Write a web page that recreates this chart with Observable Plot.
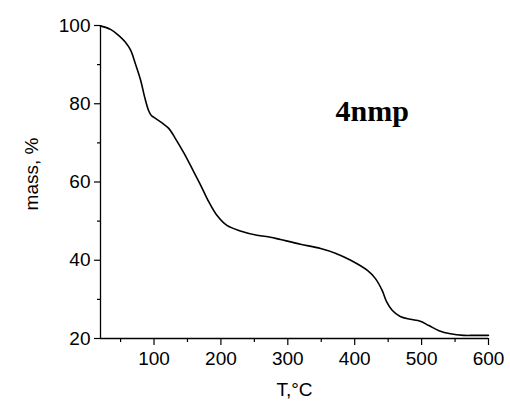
<!DOCTYPE html>
<html>
<head>
<meta charset="utf-8">
<script src="https://cdn.jsdelivr.net/npm/d3@7"></script>
<script src="https://cdn.jsdelivr.net/npm/@observablehq/plot@0.6"></script>
<style>
  html, body { margin: 0; padding: 0; background: #fff; }
</style>
</head>
<body>
<div id="chart"></div>
<script>
const temperature = [20,35,47,57,65,72,80,86,92,96,100,112,122,132,145,157,170,182,194,209,229,254,274,289,319,349,371,394,419,431,441,448,456,468,483,498,511,526,543,563,580,600];
const mass = [99.9,99.0,97.5,95.8,93.7,90.3,86,81.7,78.2,77.0,76.5,75.1,73.7,71.1,67.3,63.4,59.1,54.9,51.5,48.9,47.5,46.4,45.9,45.3,44.1,43.0,41.8,40.0,37.4,35.3,32.3,29.3,27.2,25.6,24.9,24.4,23.3,22.0,21.2,20.8,20.8,20.8];
const xDomain = [20, 600];
const yDomain = [20, 100];
const xMajorTicks = [100, 200, 300, 400, 500, 600];
const xMinorTicks = [50, 150, 250, 350, 450, 550];
const yMajorTicks = [20, 40, 60, 80, 100];
const yMinorTicks = [30, 50, 70, 90];
const xLabel = "T,°C";
const yLabel = "mass, %";
const sampleName = "4nmp";

const data = temperature.map((t, i) => ({T: t, mass: mass[i]}));
const sans = "'Liberation Sans', Arial, sans-serif";

const chart = Plot.plot({
  width: 510,
  height: 401,
  marginLeft: 100,
  marginRight: 22,
  marginTop: 25,
  marginBottom: 63,
  style: {fontFamily: sans, fontSize: "19px", color: "#000", background: "#fff"},
  x: {domain: xDomain, axis: null},
  y: {domain: yDomain, axis: null},
  marks: [
    Plot.axisX({ticks: xMajorTicks, tickSize: 7, tickPadding: 6, strokeWidth: 1.2, fontSize: 19, fontFamily: sans, tickFormat: d => String(d), label: null}),
    Plot.axisX({ticks: xMinorTicks, tickSize: 4, strokeWidth: 1.2, tickFormat: null, text: null, label: null}),
    Plot.axisY({ticks: yMajorTicks, tickSize: 6, tickPadding: 4, strokeWidth: 1.2, fontSize: 19, fontFamily: sans, tickFormat: d => String(d), label: null}),
    Plot.axisY({ticks: yMinorTicks, tickSize: 3, strokeWidth: 1.2, tickFormat: null, text: null, label: null}),
    Plot.ruleX([xDomain[0]], {stroke: "#000", strokeWidth: 1.3}),
    Plot.ruleY([yDomain[0]], {stroke: "#000", strokeWidth: 1.3}),
    Plot.line(data, {x: "T", y: "mass", stroke: "#000", strokeWidth: 1.6, curve: "catmull-rom"}),
    Plot.text([xLabel], {frameAnchor: "bottom", textAnchor: "middle", lineAnchor: "top", dy: 44, fontSize: 19, fontFamily: sans, fill: "#000"}),
    Plot.text([yLabel], {frameAnchor: "left", textAnchor: "middle", rotate: -90, lineAnchor: "bottom", dx: -63, dy: -8, fontSize: 19, fontFamily: sans, fill: "#000"}),
    Plot.text([sampleName], {frameAnchor: "top-right", textAnchor: "start", lineAnchor: "bottom", dx: -153, dy: 95, fontSize: 30, fontWeight: "bold", fontFamily: "'Liberation Serif', 'Times New Roman', serif", fill: "#000"})
  ]
});
document.getElementById("chart").appendChild(chart);
</script>
</body>
</html>
